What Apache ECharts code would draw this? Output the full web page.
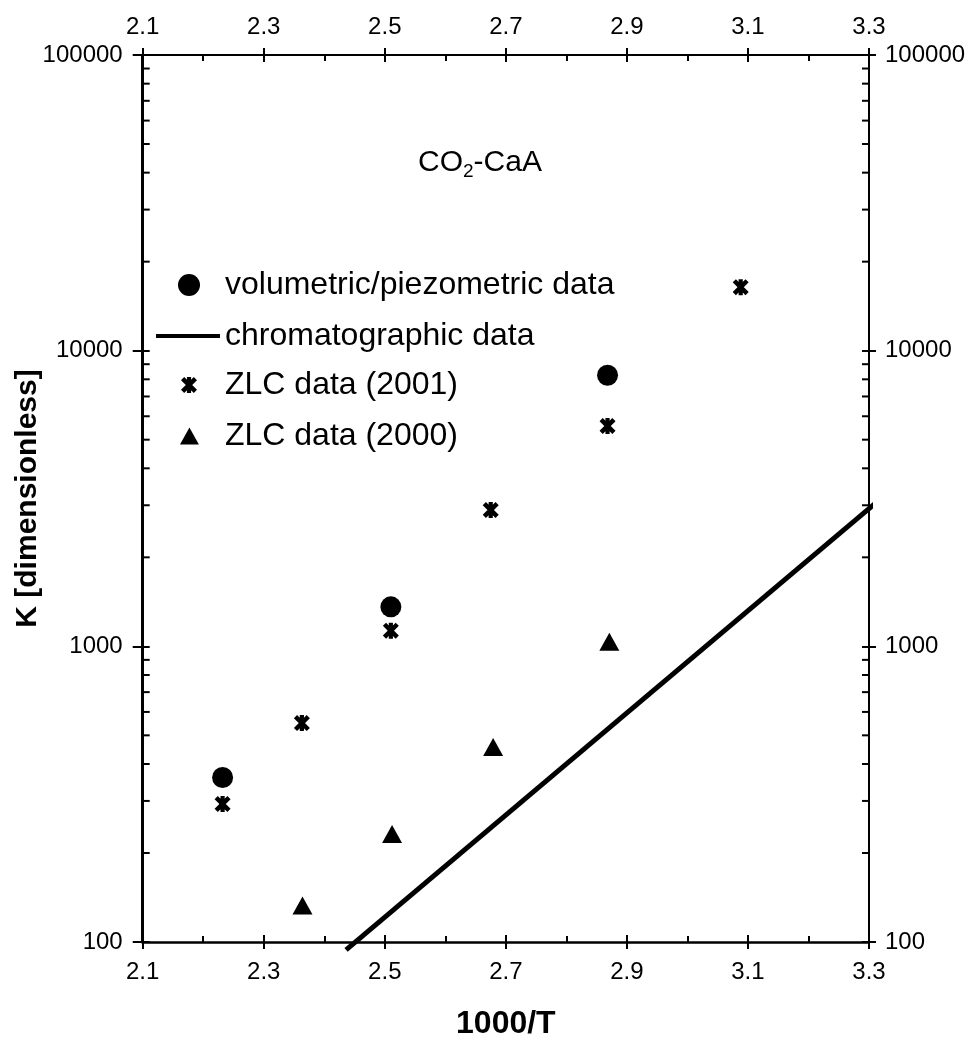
<!DOCTYPE html>
<html>
<head>
<meta charset="utf-8">
<script src="https://cdn.jsdelivr.net/npm/echarts@6/dist/echarts.min.js"></script>
<style>
html,body{margin:0;padding:0;background:#fff;}
#c{width:969px;height:1042px;}
</style>
</head>
<body>
<div id="c"></div>
<script>
// ---- data ----
var xTicks = [2.1, 2.3, 2.5, 2.7, 2.9, 3.1, 3.3];
var yTicks = [100, 1000, 10000, 100000];
var yMinorTicks = [200,300,400,500,600,700,800,900,2000,3000,4000,5000,6000,7000,8000,9000,20000,30000,40000,50000,60000,70000,80000,90000];

var volX = [2.232, 2.510, 2.868];
var volY = [360, 1360, 8260];

var chromX = [2.436, 3.311];
var chromY = [94, 3052];

var zlc01X = [2.232, 2.363, 2.510, 2.675, 2.868, 3.088];
var zlc01Y = [293, 550, 1130, 2890, 5560, 16400];

var zlc00X = [2.364, 2.512, 2.679, 2.871];
var zlc00Y = [133, 232, 457, 1037];

var seriesNames = ['volumetric/piezometric data', 'chromatographic data', 'ZLC data (2001)', 'ZLC data (2000)'];

// ---- helpers ----
function pairs(xs, ys){ return xs.map(function(x,i){ return [x, ys[i]]; }); }
var FONT = "'Liberation Sans', Arial, sans-serif";
var ASTER = 'path://M3.7,0 L6.3,0 L6.3,10 L3.7,10 Z M0,2 L2,0 L10,8 L8,10 Z M8,0 L10,2 L2,10 L0,8 Z';
var TRI = 'path://M5,0 L10,9 L0,9 Z';
var xMin = xTicks[0], xMax = xTicks[xTicks.length-1], xInt = 0.2;
var yMin = yTicks[0], yMax = yTicks[yTicks.length-1];

var chart = echarts.init(document.getElementById('c'), null, {renderer:'canvas'});

function xAxisDef(pos, outer){
  return {
    type:'value', position:pos, min:xMin, max:xMax, interval:xInt,
    axisLine:{show:outer, onZero:false, lineStyle:{color:'#000', width: pos==='bottom'?2.5:2}},
    axisTick:{show:true, inside:!outer, length:7, lineStyle:{color:'#000', width:2}},
    minorTick:{show:!outer, splitNumber:2, length:6, lineStyle:{color:'#000', width:2}},
    axisLabel:{show:outer, margin: pos==='bottom'?18:16, fontSize:24, color:'#000', fontFamily:FONT,
      formatter:function(v){ return (+v).toFixed(1); }},
    splitLine:{show:false}, minorSplitLine:{show:false}
  };
}
function yAxisDef(pos, outer){
  return {
    type:'log', logBase:10, position:pos, min:yMin, max:yMax,
    axisLine:{show:outer, onZero:false, lineStyle:{color:'#000', width: pos==='left'?3:2}},
    axisTick:{show:true, inside:!outer, length: outer?(pos==='left'?10:7):7, lineStyle:{color:'#000', width:2}},
    axisLabel:{show:outer, margin: pos==='left'?20:16, fontSize:24, color:'#000', fontFamily:FONT,
      formatter:function(v){ return String(Math.round(v)); }},
    splitLine:{show:false}
  };
}

var xAxes = [xAxisDef('bottom', true), xAxisDef('bottom', false), xAxisDef('top', true), xAxisDef('top', false)];
xAxes[0].name = '1000/T';
xAxes[0].nameLocation = 'middle';
xAxes[0].nameGap = 66;
xAxes[0].nameMoveOverlap = false;
xAxes[0].nameTextStyle = {fontSize:32, fontWeight:'bold', color:'#000', fontFamily:FONT};

var yAxes = [yAxisDef('left', true), yAxisDef('left', false), yAxisDef('right', true), yAxisDef('right', false)];
yAxes[0].name = 'K [dimensionless]';
yAxes[0].nameLocation = 'middle';
yAxes[0].nameGap = 100;
yAxes[0].nameMoveOverlap = false;
yAxes[0].nameTextStyle = {fontSize:30, fontWeight:'bold', color:'#000', fontFamily:FONT};

function legendDef(name, icon, left, top, w, h, padLeft){
  return {
    show:true, orient:'vertical', left:left, top:top, itemWidth:w, itemHeight:h, itemGap:0,
    padding:0, selectedMode:false, symbolKeepAspect:true,
    data:[{name:name, icon:icon, itemStyle:{color:'#000'}}],
    textStyle:{fontSize:32, color:'#000', fontFamily:FONT, padding:[0,0,0,padLeft]}
  };
}

var option = {
  backgroundColor:'#fff',
  animation:false,
  grid:{left:142.7, right:100, top:55, bottom:100, containLabel:false, outerBoundsMode:'none'},
  title:{
    text:'{n|CO}{s|2}{n|-CaA}',
    left:413, top:139,
    textStyle:{
      fontWeight:'normal',
      rich:{
        n:{fontSize:30, color:'#000', fontFamily:FONT, fontWeight:'normal'},
        s:{fontSize:19, color:'#000', fontFamily:FONT, fontWeight:'normal', padding:[18,0,0,0]}
      }
    }
  },
  legend:[
    legendDef(seriesNames[0], 'circle', 178, 269, 22, 22, 20),
    legendDef(seriesNames[1], 'rect', 156, 320, 64, 4, 0),
    legendDef(seriesNames[2], ASTER, 181, 369, 16, 16, 23),
    legendDef(seriesNames[3], TRI, 180, 420, 19, 17, 21)
  ],
  xAxis:xAxes,
  yAxis:yAxes,
  series:[
    {
      name:seriesNames[1], type:'line', xAxisIndex:0, yAxisIndex:0,
      data:pairs(chromX, chromY), showSymbol:false, symbol:'none', clip:false,
      lineStyle:{color:'#000', width:5}, itemStyle:{color:'#000'}, z:3
    },
    {
      name:seriesNames[0], type:'scatter', xAxisIndex:0, yAxisIndex:0,
      data:pairs(volX, volY), symbol:'circle', symbolSize:21,
      itemStyle:{color:'#000', opacity:1}, z:4
    },
    {
      name:seriesNames[2], type:'scatter', xAxisIndex:0, yAxisIndex:0,
      data:pairs(zlc01X, zlc01Y), symbol:ASTER, symbolSize:16,
      itemStyle:{color:'#000', opacity:1}, z:4
    },
    {
      name:seriesNames[3], type:'scatter', xAxisIndex:0, yAxisIndex:0,
      data:pairs(zlc00X, zlc00Y), symbol:TRI, symbolSize:[20,18],
      itemStyle:{color:'#000', opacity:1}, z:4
    },
    {
      name:'leftMinorTicks', type:'scatter', xAxisIndex:0, yAxisIndex:0, silent:true, clip:false,
      data:yMinorTicks.map(function(v){ return [xMin, v]; }),
      symbol:'rect', symbolSize:[6,2], symbolOffset:[4,0], itemStyle:{color:'#000', opacity:1}, z:5
    },
    {
      name:'rightMinorTicks', type:'scatter', xAxisIndex:0, yAxisIndex:0, silent:true, clip:false,
      data:yMinorTicks.map(function(v){ return [xMax, v]; }),
      symbol:'rect', symbolSize:[6,2], symbolOffset:[-4,0], itemStyle:{color:'#000', opacity:1}, z:5
    }
  ]
};
chart.setOption(option);
</script>
</body>
</html>
